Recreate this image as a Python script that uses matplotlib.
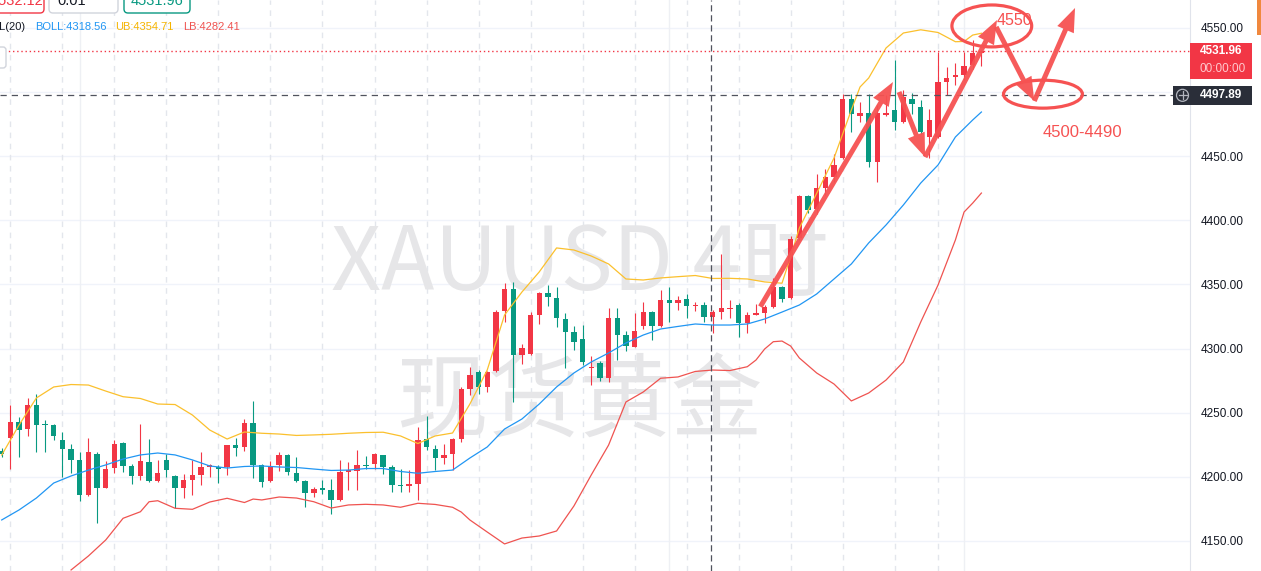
import matplotlib
matplotlib.use('Agg')
import matplotlib.pyplot as plt
from matplotlib.patches import Rectangle, FancyBboxPatch, Ellipse, FancyArrowPatch, Circle, ArrowStyle
from matplotlib.transforms import IdentityTransform
from matplotlib.lines import Line2D

plt.rcParams['font.family'] = ['Liberation Sans', 'Noto Sans CJK SC', 'DejaVu Sans']

# XAUUSD 4H candles, index 0 = leftmost candle on screen
opens = [4220.3, 4230.4, 4242.9, 4237.7, 4255.9, 4241.6, 4240.3, 4228.6, 4221.6, 4213.0,
         4185.7, 4218.2, 4191.4, 4207.0, 4226.5, 4208.3, 4200.8, 4211.7, 4196.6, 4213.0,
         4200.8, 4191.0, 4197.4, 4201.3, 4208.0, 4207.8, 4207.8, 4224.7, 4223.4, 4242.1,
         4209.1, 4196.6, 4209.1, 4216.9, 4203.4, 4196.6, 4187.8, 4191.0, 4189.6, 4181.8,
         4203.9, 4204.7, 4209.1, 4210.4, 4216.9, 4207.8, 4193.5, 4192.7, 4194.8, 4229.9,
         4222.1, 4215.1, 4217.5, 4229.9, 4268.2, 4281.9, 4270.2, 4282.7, 4329.5, 4346.4,
         4294.9, 4295.7, 4326.6, 4343.5, 4339.6, 4323.0, 4313.1, 4307.4, 4285.0, 4288.9,
         4276.7, 4323.5, 4310.5, 4301.4, 4317.5, 4328.7, 4317.5, 4337.8, 4335.7, 4338.6,
         4333.1, 4334.0, 4324.8, 4328.2, 4331.0, 4333.9, 4319.7, 4326.6, 4327.9, 4332.6,
         4348.2, 4339.1, 4385.9, 4418.9, 4409.0, 4425.0, 4434.0, 4448.7, 4494.3, 4481.0,
         4483.5, 4445.8, 4482.0, 4486.1, 4476.9, 4494.3, 4488.2, 4464.8, 4464.8, 4508.1,
         4511.6, 4513.4, 4521.1, 4530.3]
highs = [4222.4, 4255.9, 4246.3, 4261.6, 4264.3, 4244.7, 4241.0, 4235.1, 4226.0, 4219.5,
         4230.4, 4219.5, 4212.2, 4229.1, 4227.3, 4209.9, 4241.1, 4229.4, 4213.0, 4217.5,
         4201.8, 4202.6, 4213.0, 4219.5, 4210.0, 4209.6, 4225.0, 4230.4, 4245.5, 4259.0,
         4210.4, 4212.2, 4219.5, 4217.7, 4215.3, 4197.4, 4192.2, 4197.4, 4198.7, 4213.0,
         4211.7, 4220.8, 4216.1, 4218.7, 4217.0, 4209.1, 4206.5, 4205.2, 4239.0, 4247.3,
         4224.7, 4225.5, 4230.0, 4270.2, 4285.8, 4283.7, 4282.4, 4330.5, 4351.3, 4352.1,
         4303.5, 4328.7, 4344.0, 4349.5, 4347.7, 4327.9, 4317.5, 4318.3, 4294.1, 4290.5,
         4331.3, 4331.3, 4313.6, 4327.4, 4336.5, 4329.0, 4345.6, 4347.7, 4341.0, 4342.5,
         4336.5, 4336.5, 4330.0, 4373.7, 4337.8, 4335.7, 4328.7, 4334.7, 4333.9, 4355.3,
         4348.5, 4387.7, 4420.0, 4419.7, 4436.0, 4440.0, 4452.0, 4498.4, 4498.4, 4492.5,
         4498.4, 4490.0, 4498.0, 4525.0, 4501.6, 4499.5, 4493.7, 4486.6, 4531.5, 4519.8,
         4522.5, 4531.5, 4540.6, 4533.0]
lows = [4215.3, 4206.5, 4215.6, 4232.0, 4219.5, 4219.5, 4228.6, 4200.0, 4203.4, 4181.0,
        4185.0, 4164.1, 4191.0, 4203.0, 4203.9, 4194.3, 4197.4, 4196.0, 4196.0, 4200.0,
        4175.8, 4183.6, 4185.7, 4194.0, 4200.0, 4195.3, 4201.3, 4216.4, 4220.3, 4199.2,
        4192.2, 4196.0, 4204.4, 4201.8, 4196.0, 4176.6, 4184.4, 4187.0, 4170.7, 4181.0,
        4189.6, 4189.6, 4206.5, 4206.5, 4202.6, 4188.3, 4188.3, 4188.3, 4181.8, 4220.8,
        4205.2, 4210.4, 4205.2, 4227.3, 4263.7, 4265.0, 4266.3, 4282.0, 4320.9, 4258.2,
        4287.9, 4295.0, 4319.0, 4333.1, 4317.0, 4284.5, 4298.8, 4287.1, 4271.5, 4274.9,
        4274.1, 4291.0, 4298.3, 4301.0, 4315.0, 4306.6, 4317.0, 4320.9, 4330.0, 4324.0,
        4329.0, 4320.9, 4312.0, 4322.8, 4323.5, 4309.2, 4312.3, 4326.0, 4319.7, 4332.0,
        4336.5, 4338.6, 4385.0, 4405.7, 4405.0, 4420.0, 4430.0, 4448.0, 4469.0, 4476.9,
        4441.9, 4430.0, 4481.0, 4470.5, 4476.0, 4482.8, 4467.0, 4448.4, 4464.0, 4497.8,
        4505.5, 4509.4, 4518.0, 4520.0]
closes = [4217.7, 4242.9, 4236.4, 4255.9, 4240.3, 4240.3, 4232.0, 4222.1, 4213.0, 4185.7,
          4219.5, 4191.4, 4206.0, 4226.0, 4208.3, 4200.8, 4212.2, 4196.6, 4203.1, 4205.2,
          4191.0, 4197.4, 4201.3, 4207.8, 4209.1, 4206.5, 4224.7, 4222.6, 4242.1, 4209.1,
          4196.1, 4208.3, 4216.9, 4203.9, 4196.6, 4187.8, 4190.4, 4189.8, 4181.8, 4203.9,
          4205.2, 4209.1, 4208.3, 4217.5, 4207.8, 4193.5, 4192.7, 4194.8, 4228.6, 4222.9,
          4215.1, 4216.9, 4229.9, 4268.4, 4279.3, 4270.2, 4281.9, 4328.7, 4346.4, 4294.9,
          4300.1, 4326.1, 4343.5, 4339.9, 4323.5, 4313.1, 4305.3, 4289.7, 4285.6, 4276.7,
          4323.5, 4310.5, 4301.9, 4313.6, 4328.7, 4317.5, 4337.8, 4335.7, 4337.8, 4333.1,
          4334.0, 4324.8, 4328.7, 4331.8, 4332.0, 4319.7, 4326.1, 4327.9, 4332.1, 4348.2,
          4338.4, 4385.2, 4418.9, 4408.0, 4425.0, 4434.0, 4443.0, 4494.3, 4482.8, 4483.5,
          4445.8, 4484.0, 4483.5, 4476.9, 4496.4, 4490.4, 4469.0, 4478.3, 4508.1, 4510.8,
          4513.4, 4520.4, 4530.3, 4531.96]

# Bollinger(20) lines
mid_idx = [0, 2, 4, 6, 8, 10, 12, 14, 16, 18, 20, 22, 24, 26, 28, 30, 32, 34, 36, 38,
           40, 42, 44, 46, 48, 50, 52, 54, 56, 58, 60, 62, 64, 66, 68, 70, 72, 74, 76, 78,
           80, 82, 84, 86, 88, 90, 92, 94, 96, 98, 100, 102, 104, 106, 108, 110, 112, 113]
mid_vals = [4166.4, 4174.2, 4183.5, 4195.2, 4200.7, 4205.3, 4209.3, 4213.9, 4217.1, 4218.6,
            4217.1, 4213.2, 4208.5, 4206.9, 4208.1, 4208.5, 4207.7, 4207.3, 4206.1, 4205.0,
            4205.3, 4206.5, 4206.5, 4204.2, 4202.8, 4204.2, 4205.3, 4214.7, 4223.3, 4237.3,
            4245.1, 4256.8, 4270.1, 4281.0, 4289.6, 4296.6, 4304.4, 4310.6, 4315.3, 4317.3,
            4319.2, 4318.4, 4318.4, 4319.2, 4323.1, 4328.5, 4334.0, 4342.6, 4354.3, 4366.0,
            4382.4, 4396.4, 4412.0, 4429.1, 4443.2, 4465.0, 4478.3, 4484.5]
ub_idx = [0, 2, 4, 6, 8, 10, 12, 14, 16, 18, 20, 22, 24, 26, 28, 30, 32, 34, 36, 38,
          40, 42, 44, 46, 48, 50, 52, 54, 56, 58, 60, 62, 64, 66, 68, 70, 72, 74, 76, 78,
          80, 82, 84, 86, 88, 90, 91, 92, 94, 96, 98, 99, 100, 102, 104, 106, 108, 110,
          111, 112, 113]
ub_vals = [4217.0, 4240.4, 4261.5, 4270.1, 4272.0, 4271.6, 4266.9, 4262.5, 4261.1, 4256.8,
           4256.4, 4248.2, 4236.5, 4229.5, 4235.0, 4234.0, 4233.4, 4232.3, 4232.7, 4233.2,
           4234.0, 4234.6, 4234.8, 4231.9, 4226.0, 4231.9, 4234.2, 4256.8, 4283.3, 4326.2,
           4344.1, 4359.8, 4378.5, 4376.9, 4372.2, 4366.0, 4354.3, 4353.5, 4355.1, 4356.1,
           4357.0, 4354.7, 4354.8, 4354.3, 4352.0, 4351.0, 4371.7, 4394.0, 4421.1, 4448.6,
           4486.1, 4504.0, 4511.0, 4534.4, 4546.1, 4548.6, 4546.5, 4539.3, 4539.5, 4544.5,
           4545.9]
lb_idx = [8, 10, 12, 14, 16, 17, 18, 20, 22, 24, 26, 28, 29, 30, 32, 34, 36, 38, 40, 42,
          44, 46, 48, 50, 52, 53, 54, 56, 58, 60, 62, 64, 66, 68, 70, 72, 74, 76, 78, 80,
          82, 84, 86, 87, 88, 89, 90, 91, 92, 94, 96, 98, 100, 102, 104, 106, 108, 110,
          111, 112, 113]
lb_vals = [4127.4, 4138.3, 4150.8, 4167.7, 4172.8, 4180.6, 4181.4, 4175.5, 4174.7, 4180.4,
           4183.3, 4180.0, 4182.7, 4182.0, 4184.3, 4183.5, 4180.6, 4175.7, 4178.1, 4178.6,
           4178.1, 4176.3, 4179.4, 4178.5, 4176.3, 4172.6, 4166.4, 4157.0, 4147.7, 4152.3,
           4153.9, 4157.8, 4177.3, 4201.5, 4224.8, 4258.4, 4266.2, 4276.9, 4277.9, 4282.2,
           4283.3, 4282.9, 4285.9, 4291.1, 4299.7, 4305.4, 4305.9, 4302.0, 4292.7, 4281.0,
           4272.4, 4259.2, 4265.4, 4275.5, 4289.6, 4320.7, 4349.6, 4384.7, 4406.5, 4413.5,
           4421.3]

price_ticks = [4150, 4200, 4250, 4300, 4350, 4400, 4450, 4500, 4550]
last_price = 4531.96
cursor_idx = 81.85
cursor_price = 4497.89
boll_text = ['BOLL:4318.56', 'UB:4354.71', 'LB:4282.41']
dash_grid_idx = [1, 7, 13, 19, 25, 31, 37, 43, 49, 55, 61, 67, 73, 79, 85, 91, 97, 103, 108]
solid_grid_idx = [9, 77, 111]

# hand drawn forecast marks (candle index, price)
arrows = [((87.5, 4332.7), (102.8, 4507.9)),
          ((103.5, 4500.1), (106.5, 4449.4)),
          ((106.5, 4449.4), (114.8, 4556.2)),
          ((114.7, 4550.8), (119.1, 4493.1)),
          ((119.1, 4493.1), (123.8, 4565.6))]
ellipses = [((114.2, 4551.6), 9.2, 32.7), ((120.1, 4498.4), 9.1, 21.8)]
notes = [('4550', 114.8, 4555.5), ('4500-4490', 124.6, 4468.9)]

RED = '#f23645'
GREEN = '#089981'
MARK = '#f65252'
H = 571

fig = plt.figure(figsize=(12.61, 5.71), dpi=100)
ax = fig.add_axes([0, 0, 1190 / 1261, 1])
ax.set_xlim(-0.196, 137.06)
ax.set_ylim(4126.6, 4571.83)

# grid
for p in price_ticks:
    ax.axhline(p, color='#f0f3fa', lw=1, zorder=0)
for i in dash_grid_idx:
    ax.axvline(i, color='#e3e6ec', lw=1, ls=(0, (4, 4)), zorder=0)
for i in solid_grid_idx:
    ax.axvline(i, color='#eef0f4', lw=1, zorder=0)

# watermark
ax.text(0.487, 0.536, 'XAUUSD 4时', transform=ax.transAxes, ha='center', va='center',
        fontsize=63, color='#e6e6e8', family=['Noto Sans CJK SC', 'DejaVu Sans'], zorder=0.5)
ax.text(0.487, 0.291, '现货黄金', transform=ax.transAxes, ha='center', va='center',
        fontsize=66, color='#e6e6e8', family=['Noto Sans CJK SC', 'DejaVu Sans'], zorder=0.5)

# candles
idx = list(range(len(opens)))
cols = [RED if c >= o else GREEN for o, c in zip(opens, closes)]
bottoms = [min(o, c) for o, c in zip(opens, closes)]
heights = [max(abs(c - o), 0.8) for o, c in zip(opens, closes)]
ax.vlines(idx, lows, highs, colors=cols, lw=0.8, zorder=2.5)
ax.bar(idx, heights, bottom=bottoms, width=0.62, color=cols, lw=0, zorder=3)

# bollinger
ax.plot(ub_idx, ub_vals, color='#fbc02d', lw=0.9, zorder=4)
ax.plot(mid_idx, mid_vals, color='#2196f3', lw=0.9, zorder=4)
ax.plot(lb_idx, lb_vals, color='#ef5350', lw=0.9, zorder=4)

# price line and crosshair
ax.axhline(last_price, color=RED, lw=1, ls=(0, (1, 2)), zorder=5)
ax.axhline(cursor_price, color='#50535e', lw=0.9, ls=(0, (5, 4)), zorder=5)
ax.axvline(cursor_idx, color='#50535e', lw=0.9, ls=(0, (5, 3)), zorder=5)

# annotations
for (x0, y0), (x1, y1) in arrows:
    ax.add_patch(FancyArrowPatch((x0, y0), (x1, y1),
                                 arrowstyle=ArrowStyle.Simple(head_length=17, head_width=13, tail_width=3.6),
                                 color=MARK, lw=0, shrinkA=0, shrinkB=0, zorder=7, alpha=0.95))
for (cx, cy), w, h in ellipses:
    ax.add_patch(Ellipse((cx, cy), w, h, fill=False, edgecolor=MARK, lw=2.3, zorder=7))
ax.text(notes[0][1], notes[0][2], notes[0][0], color=MARK, fontsize=11.5, ha='left',
        va='center', zorder=6)
ax.text(notes[1][1], notes[1][2], notes[1][0], color=MARK, fontsize=12, ha='center',
        va='center', zorder=8)

# right price axis
for s in ['top', 'left', 'bottom']:
    ax.spines[s].set_visible(False)
ax.spines['right'].set_color('#e0e3eb')
ax.set_xticks([])
ax.yaxis.tick_right()
ax.set_yticks(price_ticks)
ax.set_yticklabels(['%.2f' % p for p in price_ticks])
ax.tick_params(axis='y', length=0, pad=7.7, labelsize=8.5, labelcolor='#131722')

fig.canvas.draw()
ident = IdentityTransform()
y_last = ax.transData.transform((0, last_price))[1]
y_cur = ax.transData.transform((0, cursor_price))[1]

fig.add_artist(Rectangle((1190, y_last - 28), 62, 36, transform=ident, color=RED, lw=0))
fig.text(1200, y_last, '%.2f' % last_price, transform=ident, color='white', fontsize=8.5,
         fontweight='bold', va='center', ha='left')
fig.text(1200, y_last - 18, '00:00:00', transform=ident, color='#ffc9ce', fontsize=8.5,
         va='center', ha='left')

fig.add_artist(Rectangle((1172.5, y_cur - 10), 79.5, 19, transform=ident, color='#2a2e39', lw=0))
fig.add_artist(Circle((1182.5, y_cur - 0.5), 6, transform=ident, fill=False,
                      edgecolor='#b2b5be', lw=0.9))
fig.add_artist(Line2D([1178.5, 1186.5], [y_cur - 0.5, y_cur - 0.5], transform=ident,
                      color='#b2b5be', lw=0.9))
fig.add_artist(Line2D([1182.5, 1182.5], [y_cur - 4.5, y_cur + 3.5], transform=ident,
                      color='#b2b5be', lw=0.9))
fig.text(1200, y_cur - 0.5, '%.2f' % cursor_price, transform=ident, color='white',
         fontsize=8.5, fontweight='bold', va='center', ha='left')

fig.add_artist(Rectangle((1257, H - 35), 4, 35, transform=ident, color='#f0883e', lw=0))

# top-left toolbar pieces (cut by the top edge)
boxes = [(-12, 56, '#f23645', '4532.12', 17, RED, 'center'),
         (49, 69, '#d1d4dc', '0.01', 57, '#131722', 'left'),
         (124, 66, '#089981', '4531.96', 157, GREEN, 'center')]
for bx, bw, ec, txt, tx, tc, ha in boxes:
    fig.add_artist(FancyBboxPatch((bx, H - 13), bw, 30, boxstyle='round,pad=0,rounding_size=4',
                                  transform=ident, facecolor='white', edgecolor=ec, lw=1))
    fig.text(tx, H - 1, txt, transform=ident, color=tc, fontsize=10.5, va='center', ha=ha)
fig.add_artist(FancyBboxPatch((-10, H - 68), 16, 21, boxstyle='round,pad=0,rounding_size=3',
                              transform=ident, facecolor='white', edgecolor='#d1d4dc', lw=1))

fig.text(25, H - 27, 'BOLL(20)', transform=ident, color='#131722', fontsize=8, va='center', ha='right')
for txt, tx, tc in zip(boll_text, [35, 115, 183], ['#2196f3', '#f5b400', '#ef5350']):
    fig.text(tx, H - 27, txt, transform=ident, color=tc, fontsize=8, va='center', ha='left')

fig.savefig('out.png', dpi=100)
